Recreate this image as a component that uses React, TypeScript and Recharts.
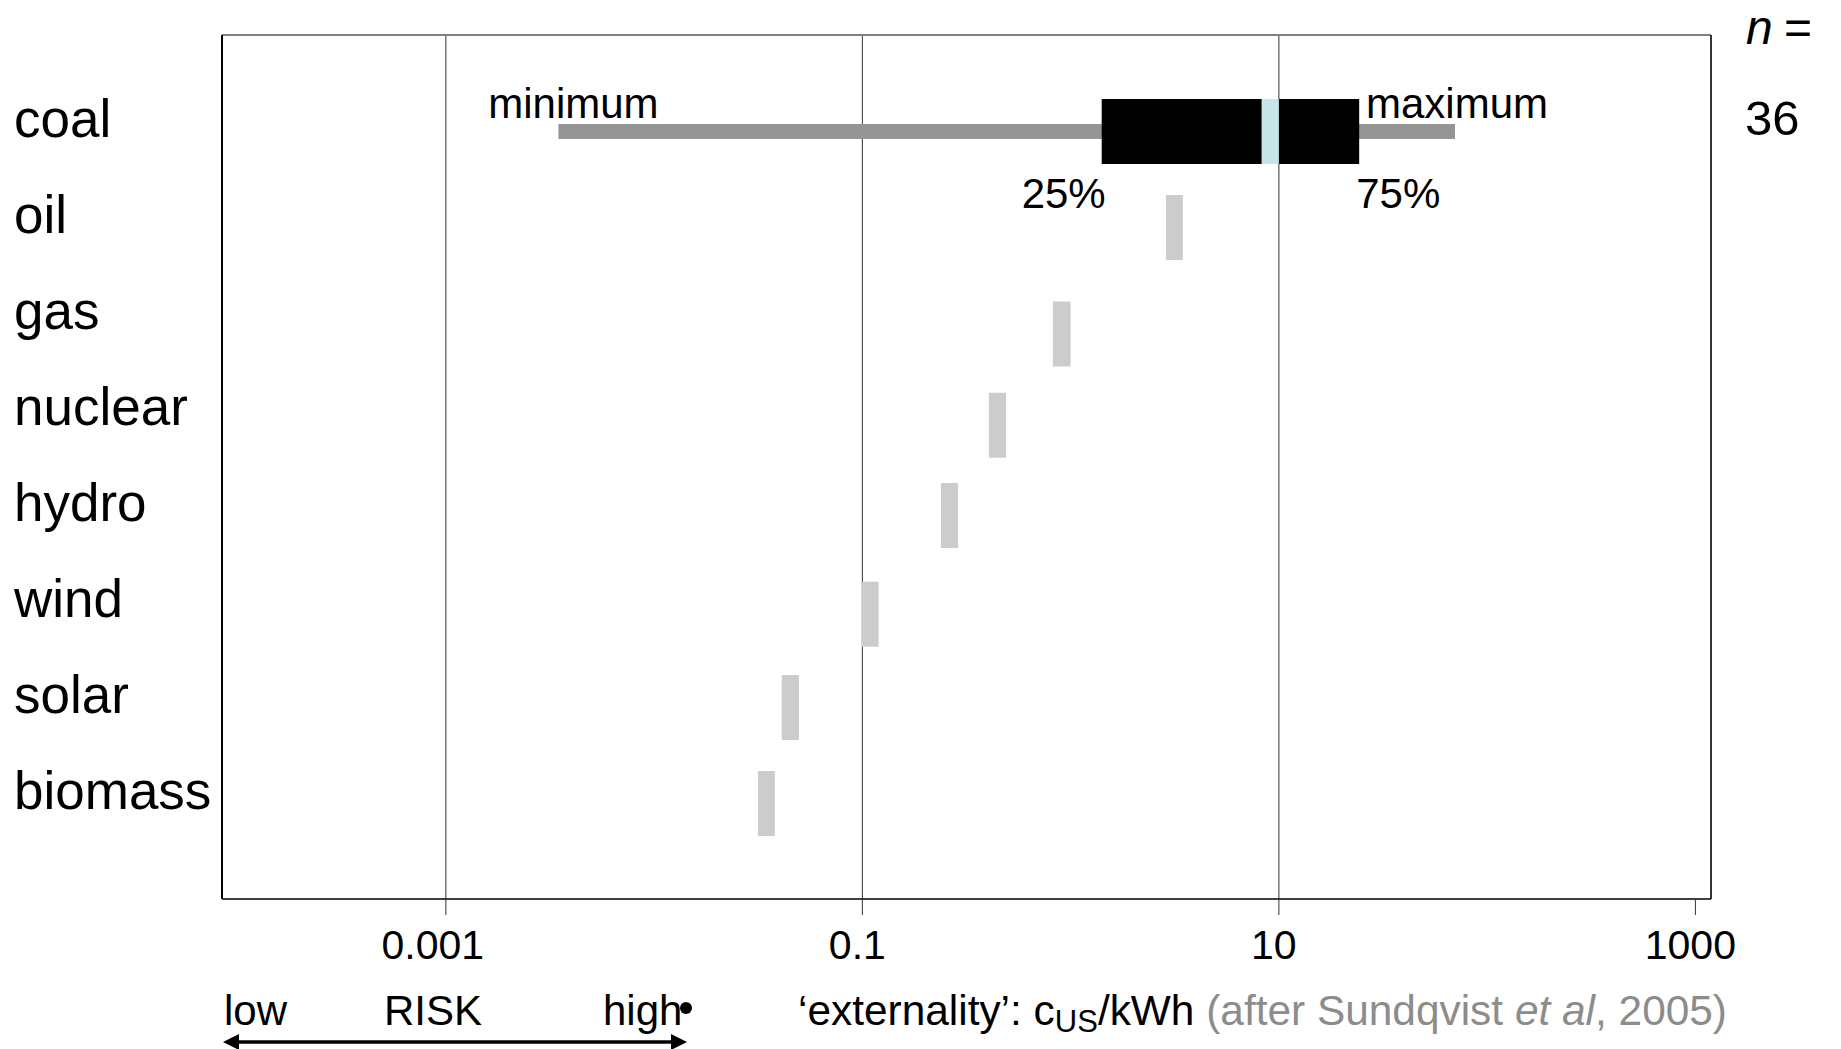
import React from 'react';
import {
  ComposedChart,
  Bar,
  XAxis,
  YAxis,
  ReferenceLine,
  CartesianGrid,
  LabelList,
  Cell,
  Customized,
} from 'recharts';

// ---- data ----
const categories = ['coal', 'oil', 'gas', 'nuclear', 'hydro', 'wind', 'solar', 'biomass'];
const rowPositions = [0, 1, 2.11, 3.06, 4, 5.03, 6, 7];
// interquartile box (coal) / reported range (others), US cents per kWh
const rangeLow = [1.41, 2.87, 0.822, 0.405, 0.2385, 0.099, 0.041, 0.0315];
const rangeHigh = [24.3, 3.46, 1.0, 0.49, 0.288, 0.1197, 0.0496, 0.038];
// whisker (min..max), coal only
const minimumValues = [0.00347, null, null, null, null, null, null, null];
const maximumValues = [70.1, null, null, null, null, null, null, null];
// median band, coal only
const medianLow = [8.26, null, null, null, null, null, null, null];
const medianHigh = [10.0, null, null, null, null, null, null, null];
const sampleSizes = [36, null, null, null, null, null, null, null];
const xTicks = [0.001, 0.1, 10, 1000];
const gridValues = [0.001, 0.1, 10];
const rowTicks = [0, 1, 2, 3, 4, 5, 6, 7];
const whiskerLabels = ['minimum', 'maximum'];
const quartileLabels = ['25%', '75%'];

const X_MIN = Math.pow(10, -4.075);
const X_MAX = Math.pow(10, 3.075);

const data = categories.map((name, i) => ({
  name,
  row: rowPositions[i],
  range: [rangeLow[i], rangeHigh[i]],
  whisker: minimumValues[i] != null ? [minimumValues[i], maximumValues[i]] : null,
  median: medianLow[i] != null ? [medianLow[i], medianHigh[i]] : null,
}));

const FONT = '"Liberation Sans", Arial, Helvetica, sans-serif';

const RowTick = (props: any) => {
  const { y, payload } = props;
  const idx = Math.round(payload.value);
  return (
    <text x={14} y={y + 6} fontSize={53} fontFamily={FONT} fill="#000" textAnchor="start">
      {categories[idx]}
    </text>
  );
};

const NTick = (props: any) => {
  const { y, payload } = props;
  const idx = Math.round(payload.value);
  const n = sampleSizes[idx];
  if (n == null) return <g />;
  return (
    <text x={1745} y={y + 4} fontSize={49} fontFamily={FONT} fill="#000" textAnchor="start">
      {String(n)}
    </text>
  );
};

const XTick = (props: any) => {
  const { x, y, payload } = props;
  const shift = payload.value === 0.001 ? -13 : -5;
  return (
    <text x={x + shift} y={y + 44} fontSize={41} fontFamily={FONT} fill="#000" textAnchor="middle">
      {String(payload.value)}
    </text>
  );
};

const WhiskerLabel = (props: any) => {
  const { x, y, width, index } = props;
  if (minimumValues[index] == null || !isFinite(x) || !isFinite(width)) return null;
  return (
    <g>
      <text x={x + 15} y={y - 6} fontSize={42} fontFamily={FONT} fill="#000" textAnchor="middle">
        {whiskerLabels[0]}
      </text>
      <text x={x + width + 2} y={y - 6} fontSize={42} fontFamily={FONT} fill="#000" textAnchor="middle">
        {whiskerLabels[1]}
      </text>
    </g>
  );
};

const QuartileLabel = (props: any) => {
  const { x, y, width, height, index } = props;
  if (index !== 0) return null;
  const base = y + height + 44;
  return (
    <g>
      <text x={x + 4} y={base} fontSize={42} fontFamily={FONT} fill="#000" textAnchor="end">
        {quartileLabels[0]}
      </text>
      <text x={x + width - 3} y={base} fontSize={42} fontFamily={FONT} fill="#000" textAnchor="start">
        {quartileLabels[1]}
      </text>
    </g>
  );
};

const Annotations = () => (
  <g fontFamily={FONT}>
    <text y={44} fontSize={48} fill="#000">
      <tspan x={1746} fontStyle="italic">n</tspan>
      <tspan x={1784}>=</tspan>
    </text>
    <text x={224} y={1025} fontSize={42} fill="#000">low</text>
    <text x={384} y={1025} fontSize={42} fill="#000">RISK</text>
    <text x={603} y={1025} fontSize={42} fill="#000">high</text>
    <circle cx={686} cy={1008} r={6} fill="#000" />
    <line x1={234} y1={1042} x2={676} y2={1042} stroke="#000" strokeWidth={3.5} />
    <polygon points="223,1042 239,1034 239,1050" fill="#000" />
    <polygon points="687,1042 671,1034 671,1050" fill="#000" />
    <text x={798} y={1025} fontSize={42.4} fill="#000">
      <tspan>‘externality’: c</tspan>
      <tspan fontSize={31} dy={7}>US</tspan>
      <tspan dy={-7}>/kWh</tspan>
      <tspan fill="#8c8c8c"> (after Sundqvist </tspan>
      <tspan fill="#8c8c8c" fontStyle="italic">et al</tspan>
      <tspan fill="#8c8c8c">, 2005)</tspan>
    </text>
  </g>
);

export default function App() {
  return (
    <div style={{ position: 'absolute', left: 0, top: 0, width: 1841, height: 1049, background: '#fff' }}>
      <ComposedChart
        width={1841}
        height={1049}
        data={data}
        layout="vertical"
        margin={{ top: 35, right: 129, bottom: 120, left: 221 }}
      >
        <CartesianGrid
          horizontal={false}
          vertical={true}
          verticalValues={gridValues}
          stroke="#333"
          strokeWidth={1}
          yAxisId="rows"
        />
        <XAxis
          type="number"
          dataKey="range"
          scale="log"
          domain={[X_MIN, X_MAX]}
          allowDataOverflow
          ticks={xTicks}
          interval={0}
          height={30}
          tickSize={16}
          tickMargin={0}
          tickLine={{ stroke: '#333', strokeWidth: 1 }}
          axisLine={{ stroke: '#000', strokeWidth: 1.5 }}
          tick={<XTick />}
        />
        <YAxis
          yAxisId="rows"
          type="number"
          dataKey="row"
          domain={[-1, 8]}
          ticks={rowTicks}
          interval={0}
          width={1}
          tickLine={false}
          axisLine={false}
          tick={<RowTick />}
        />
        <YAxis
          yAxisId="n"
          orientation="right"
          type="number"
          dataKey="row"
          domain={[-1, 8]}
          ticks={rowTicks}
          interval={0}
          width={1}
          tickLine={false}
          axisLine={false}
          tick={<NTick />}
        />
        <YAxis yAxisId="whisk" type="number" dataKey="row" domain={[-1, 8]} ticks={rowTicks} width={0} hide />
        <YAxis yAxisId="med" type="number" dataKey="row" domain={[-1, 8]} ticks={rowTicks} width={0} hide />
        <ReferenceLine yAxisId="rows" y={-1} stroke="#808080" strokeWidth={2} />
        <ReferenceLine yAxisId="rows" x={X_MIN} stroke="#000" strokeWidth={2} />
        <ReferenceLine yAxisId="rows" x={X_MAX} stroke="#333" strokeWidth={2} />
        <Bar yAxisId="whisk" dataKey="whisker" barSize={15} fill="#959595" isAnimationActive={false}>
          <LabelList dataKey="whisker" content={<WhiskerLabel />} />
        </Bar>
        <Bar yAxisId="rows" dataKey="range" barSize={65} isAnimationActive={false}>
          {data.map((d, i) => (
            <Cell key={d.name} fill={i === 0 ? '#000000' : '#cccccc'} />
          ))}
          <LabelList dataKey="range" content={<QuartileLabel />} />
        </Bar>
        <Bar yAxisId="med" dataKey="median" barSize={65} fill="#c6e5e9" isAnimationActive={false} />
        <Customized component={Annotations} />
      </ComposedChart>
    </div>
  );
}
